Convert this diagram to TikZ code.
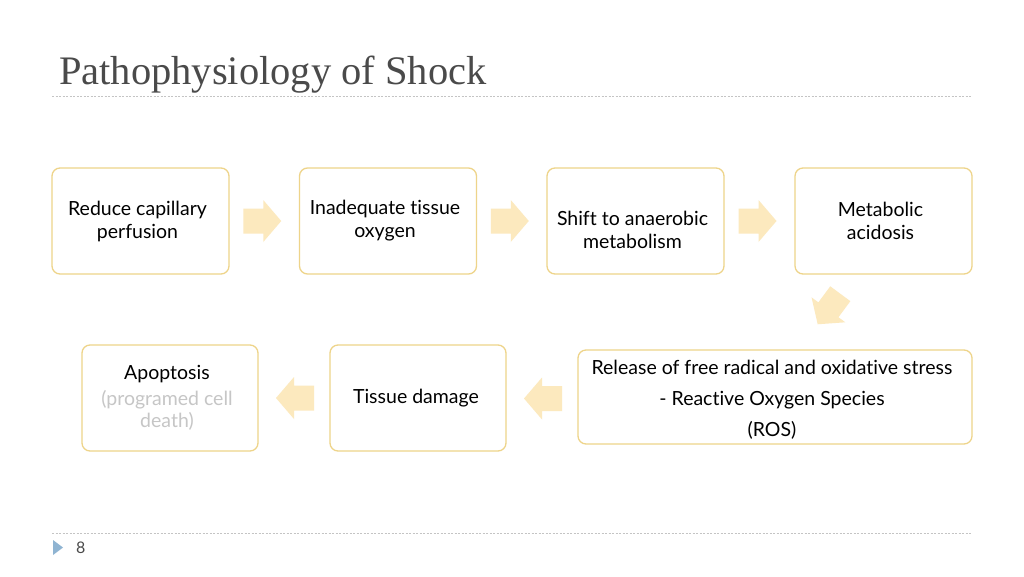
\documentclass[tikz,border=0pt]{standalone}
\usepackage{fontspec}
\setmainfont{Liberation Serif}
\newfontfamily\bodyfont[Ligatures={NoCommon,NoRare,NoContextual}]{Lato}
\usetikzlibrary{calc}
\definecolor{boxline}{HTML}{EED48A}
\definecolor{arrowfill}{HTML}{FCE9BE}
\definecolor{titlegray}{HTML}{4A4A4A}
\definecolor{rulegray}{HTML}{C4C4C4}
\definecolor{fadetext}{HTML}{C6C6C6}
\definecolor{bullet}{HTML}{8FB4D2}
\tikzset{
  x=1pt, y=-1pt,
  stepbox/.style={draw=boxline, line width=1.3pt, rounded corners=8pt, fill=white, inner sep=0pt},
  boxtext/.style={font=\bodyfont\fontsize{19.5}{23}\selectfont, align=center, text=black, inner sep=0pt},
  blockarrow/.pic={\fill[arrowfill] (-19,-12.5) -- (1,-12.5) -- (1,-21) -- (19,0) -- (1,21) -- (1,12.5) -- (-19,12.5) -- cycle;},
  dotrule/.style={draw=rulegray, line width=0.8pt, dash pattern=on 2pt off 1.5pt}
}
\begin{document}
\begin{tikzpicture}
\useasboundingbox (0,0) rectangle (1024,576);
\fill[white] (0,0) rectangle (1024,576);
% title
\node[anchor=base west, inner sep=0pt, text=titlegray, font=\fontsize{40.5}{44}\selectfont] (title) at (59,84) {Pathophysiology of Shock};
\coordinate (r1a) at (52,96); \coordinate (r1b) at (972,96);
\draw[dotrule] (r1a) -- (r1b);
% boxes top row
\node[stepbox, minimum width=177pt, minimum height=106pt] (b1) at (140.5,221) {};
\node[stepbox, minimum width=177pt, minimum height=106pt] (b2) at (388,221) {};
\node[stepbox, minimum width=177pt, minimum height=106pt] (b3) at (635.5,221) {};
\node[stepbox, minimum width=177pt, minimum height=106pt] (b4) at (883.5,221) {};
% bottom row
\node[stepbox, minimum width=394pt, minimum height=94pt] (b5) at (775,397) {};
\node[stepbox, minimum width=176pt, minimum height=106pt] (b6) at (418,398) {};
\node[stepbox, minimum width=176pt, minimum height=106pt] (b7) at (170,398) {};
% texts
\node[boxtext] (t1) at ($(b1.center)+(-3,0)$) {Reduce capillary\\perfusion};
\node[boxtext] (t2) at ($(b2.center)+(-3,0)$) {Inadequate tissue\\oxygen};
\node[boxtext] (t3) at ($(b3.center)+(-3,9)$) {Shift to anaerobic\\metabolism};
\node[boxtext] (t4) at ($(b4.center)+(-3,0)$) {Metabolic\\acidosis};
\node[boxtext, font=\bodyfont\fontsize{19.5}{31}\selectfont] (t5) at ($(b5.center)+(-3,3)$) {Release of free radical and oxidative stress\\- Reactive Oxygen Species\\(ROS)};
\node[boxtext] (t6) at ($(b6.center)+(-2,0)$) {Tissue damage};
\node[boxtext, font=\bodyfont\fontsize{19.5}{22}\selectfont] (t7) at ($(b7.center)+(-3,0)$) {Apoptosis\\[4pt]\textcolor{fadetext}{(programed cell}\\\textcolor{fadetext}{death)}};
% block arrows
\pic at ($(b1.east)!0.5!(b2.west)+(-2,0)$) {blockarrow};
\pic at ($(b2.east)!0.5!(b3.west)+(-2,0)$) {blockarrow};
\pic at ($(b3.east)!0.5!(b4.west)+(-2,0)$) {blockarrow};
\pic[rotate=-126.5] at (829,309) {blockarrow};
\pic[rotate=180] at ($(b5.west)!0.5!(b6.east)+(1,1)$) {blockarrow};
\pic[rotate=180] at ($(b6.west)!0.5!(b7.east)+(1,0)$) {blockarrow};
% footer
\coordinate (r2a) at (52,533); \coordinate (r2b) at (972,533);
\draw[dotrule] (r2a) -- (r2b);
\fill[bullet] (53,540) -- (63,547.5) -- (53,555) -- cycle;
\node[anchor=west, inner sep=0pt, text=titlegray, font=\bodyfont\fontsize{16}{16}\selectfont] (pg) at (76,548) {8};
\end{tikzpicture}
\end{document}
